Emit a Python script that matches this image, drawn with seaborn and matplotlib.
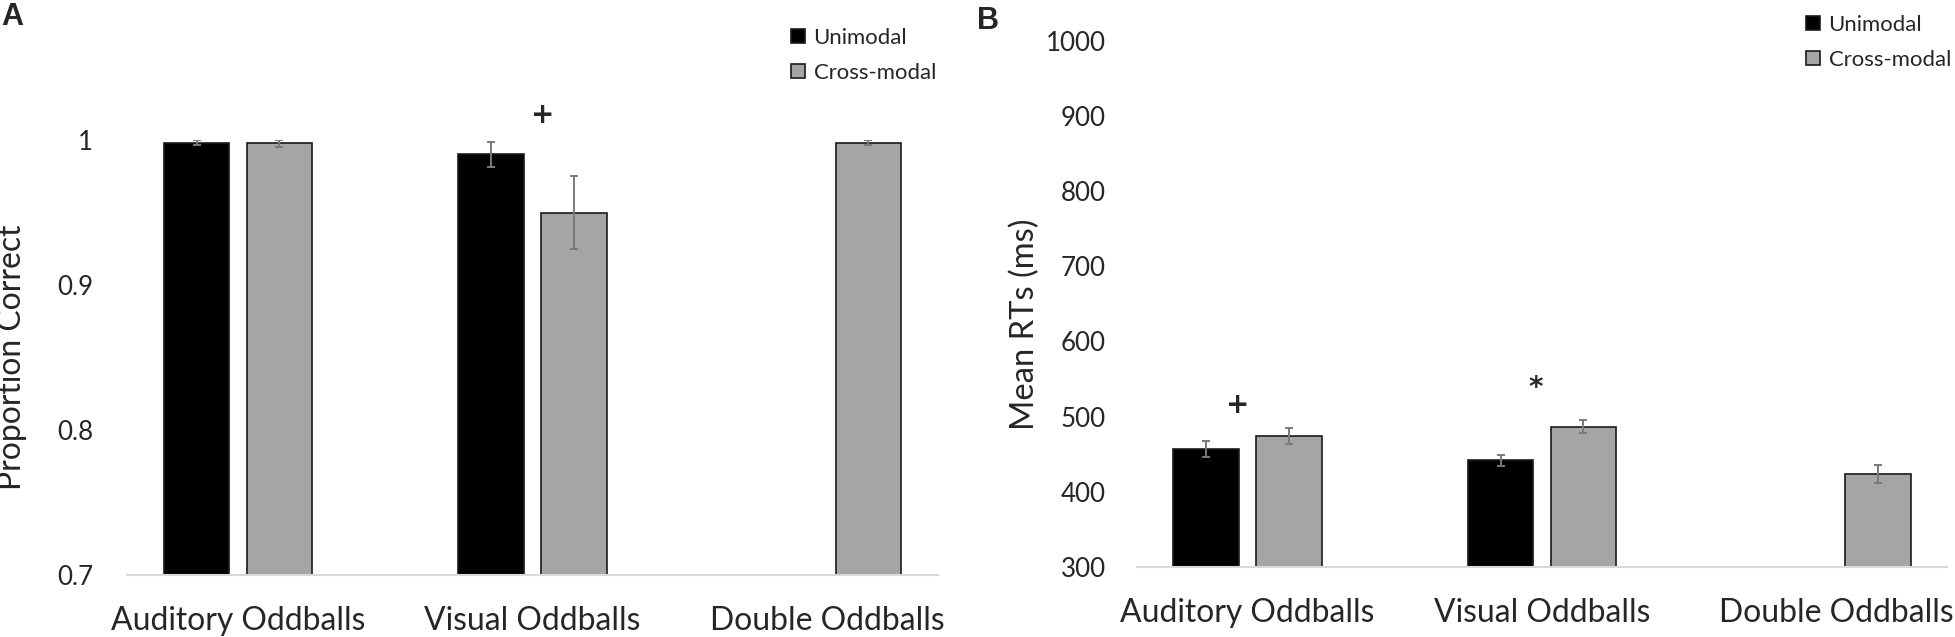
import numpy as np
import pandas as pd
import seaborn as sns
import matplotlib.pyplot as plt
from matplotlib.container import BarContainer
from matplotlib.ticker import FuncFormatter

# values
oddballs = ['Auditory Oddballs', 'Visual Oddballs', 'Double Oddballs']
conditions = ['Unimodal', 'Cross-modal']

# panel A - proportion correct (no unimodal condition for double oddballs)
acc_unimodal = [0.998, 0.990, np.nan]
acc_unimodal_se = [0.0017, 0.0086, np.nan]
acc_crossmodal = [0.9977, 0.950, 0.998]
acc_crossmodal_se = [0.0024, 0.0255, 0.0017]

# panel B - mean RTs in ms
rt_unimodal = [456.6, 442.0, np.nan]
rt_unimodal_se = [10.6, 7.5, np.nan]
rt_crossmodal = [474.0, 486.6, 424.0]
rt_crossmodal_se = [10.2, 8.9, 12.0]

# significance marks: symbol, oddball, shift from group centre, height
marks_a = [('+', 'Visual Oddballs', 0.036, 1.017)]
marks_b = [('+', 'Auditory Oddballs', -0.034, 515.5),
           ('*', 'Visual Oddballs', -0.023, 537.7)]

bar_colors = {'Unimodal': '#000000', 'Cross-modal': '#a5a5a5'}

sns.set_style('white')
plt.rcParams['font.family'] = ['Lato', 'DejaVu Sans']

fig = plt.figure(figsize=(19.55, 6.37), dpi=100)
renderer = fig.canvas.get_renderer()


def fit_size(text, width_px, base=20.0):
    # font size that makes `text` about width_px wide (widths measured on the reference)
    t = fig.text(0, 0, text, fontsize=base)
    w = t.get_window_extent(renderer).width
    t.remove()
    return base * width_px / w


xtick_size = fit_size('Auditory Oddballs', 255)
ytick_size = fit_size('1000', 60)
legend_size = fit_size('Cross-modal', 122)


def long_table(uni, uni_se, cross, cross_se):
    df = pd.DataFrame({
        'Oddball': oddballs * 2,
        'Condition': [conditions[0]] * 3 + [conditions[1]] * 3,
        'Mean': uni + cross,
        'SE': uni_se + cross_se,
    })
    return df.dropna().reset_index(drop=True)


def draw_panel(ax, df, ylim, yticks, ylabel, ylabel_px, label_xy, tickpad, marks, legend_xy):
    sns.barplot(data=df, x='Oddball', y='Mean', hue='Condition',
                order=oddballs, hue_order=conditions, palette=bar_colors,
                errorbar=None, width=0.563, gap=0.21,
                edgecolor='#1a1a1a', linewidth=1.2, ax=ax)

    # error bars on top of each bar (SE)
    bar_groups = [c for c in ax.containers if isinstance(c, BarContainer)]
    for bars in bar_groups:
        for bar in bars:
            if bar is None:
                continue
            xc = bar.get_x() + bar.get_width() / 2
            i = int(round(xc))
            cond = conditions[0] if xc < i else conditions[1]
            row = df[(df['Oddball'] == oddballs[i]) & (df['Condition'] == cond)]
            ax.errorbar(xc, bar.get_height(), yerr=row['SE'].iloc[0], fmt='none',
                        ecolor='#7a7a7a', elinewidth=1.4, capsize=3, capthick=1.4)

    for sym, odd, shift, y in marks:
        ax.text(oddballs.index(odd) + shift, y, sym, ha='center', va='center',
                fontsize=20, fontweight='bold', family='DejaVu Sans', clip_on=False)

    ax.set_ylim(*ylim)
    ax.set_yticks(yticks)
    ax.yaxis.set_major_formatter(FuncFormatter(lambda v, p: f'{v:g}'))
    ax.set_xlabel('')
    ax.set_ylabel(ylabel, fontsize=fit_size(ylabel, ylabel_px))
    ax.yaxis.set_label_coords(*label_xy)
    ax.tick_params(axis='y', length=0, pad=tickpad, labelsize=ytick_size)
    ax.tick_params(axis='x', length=0, pad=22, labelsize=xtick_size)
    sns.despine(ax=ax, left=True)
    ax.spines['bottom'].set_color('#d9d9d9')
    ax.spines['bottom'].set_linewidth(1.5)

    sns.move_legend(ax, 'upper left', bbox_to_anchor=legend_xy,
                    bbox_transform=fig.transFigure, frameon=False, title=None,
                    fontsize=legend_size, handlelength=0.62, handleheight=0.62,
                    handletextpad=0.4, labelspacing=0.7, borderpad=0, borderaxespad=0)


ax_a = fig.add_axes([0.06496, 0.09733, 0.41483, 0.68289])
ax_b = fig.add_axes([0.58133, 0.10989, 0.41483, 0.82637])

draw_panel(ax_a, long_table(acc_unimodal, acc_unimodal_se, acc_crossmodal, acc_crossmodal_se),
           (0.7, 1.0), [0.7, 0.8, 0.9, 1.0], 'Proportion Correct', 266,
           (-0.123, 0.5), 24.5, marks_a, (0.4046, 0.9568))
draw_panel(ax_b, long_table(rt_unimodal, rt_unimodal_se, rt_crossmodal, rt_crossmodal_se),
           (300, 1000), list(range(300, 1001, 100)), 'Mean RTs (ms)', 212,
           (-0.119, 0.4616), 22, marks_b, (0.9238, 0.9772))

fig.text(0.0008, 0.997, 'A', fontsize=22, fontweight='bold',
         family=['Liberation Sans', 'DejaVu Sans'], va='top', ha='left')
fig.text(0.4998, 0.991, 'B', fontsize=22, fontweight='bold',
         family=['Liberation Sans', 'DejaVu Sans'], va='top', ha='left')

fig.savefig('out.png', dpi=100, facecolor='white')
